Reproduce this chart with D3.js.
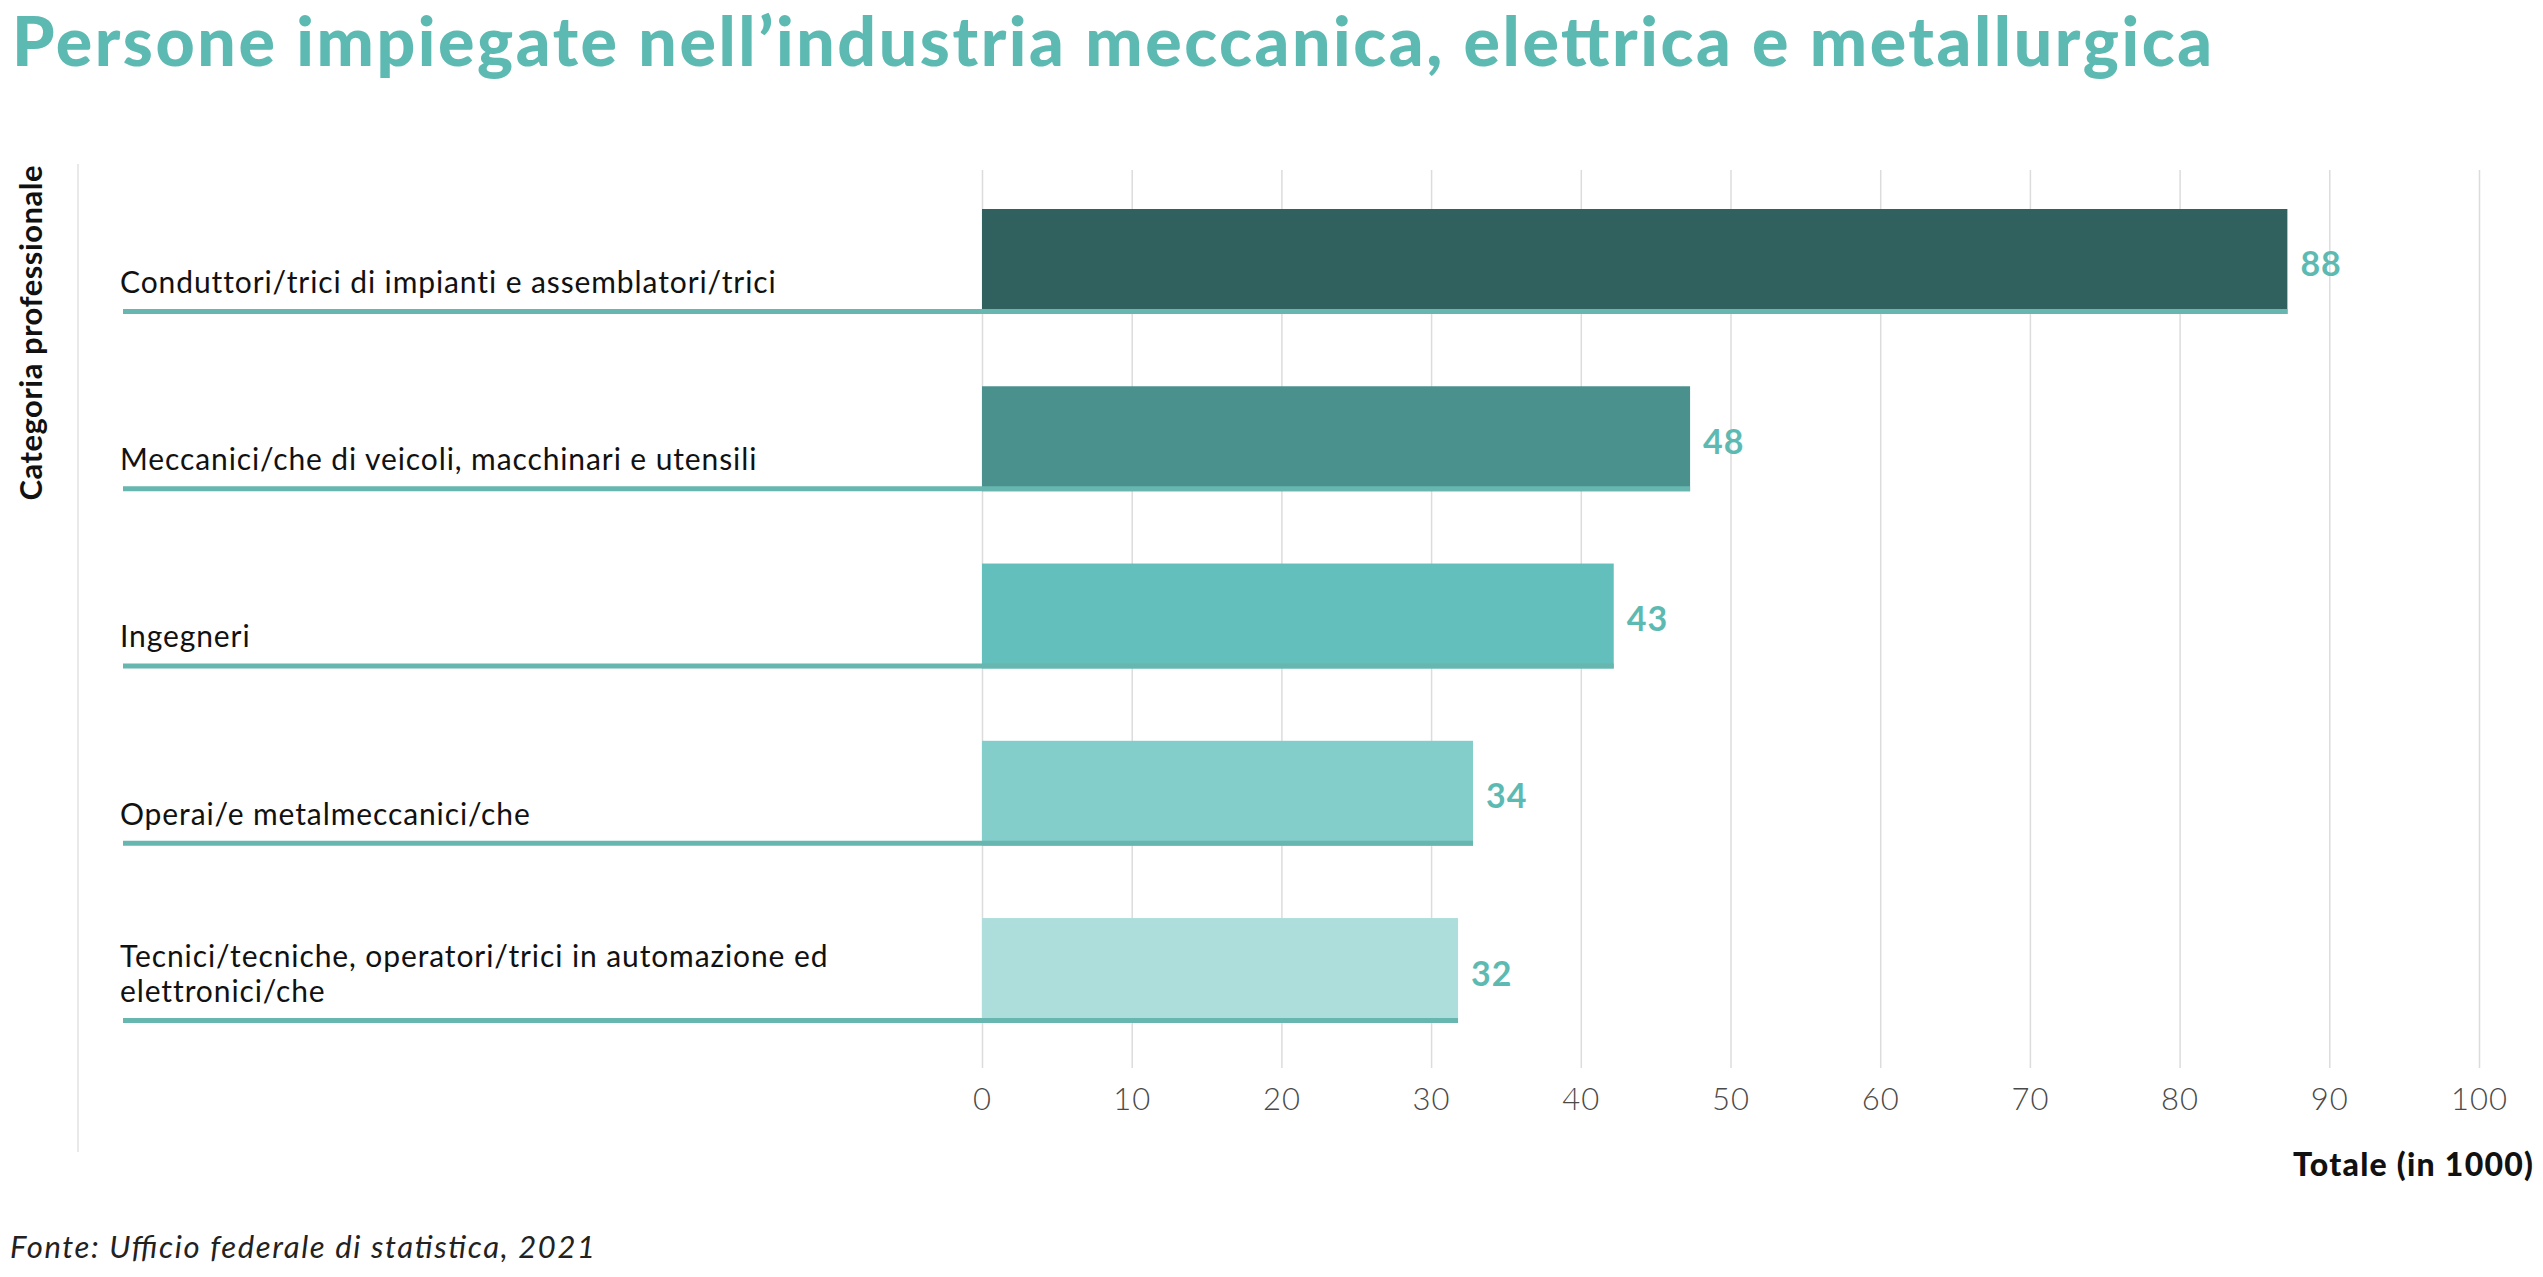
<!DOCTYPE html>
<html>
<head>
<meta charset="utf-8">
<script src="https://cdn.jsdelivr.net/npm/d3@7"></script>
<style>
  html, body { margin: 0; padding: 0; background: #ffffff; }
  svg { display: block; font-family: Lato, "Open Sans", sans-serif; }
</style>
</head>
<body>
<svg id="chart" width="2543" height="1277"></svg>
<script>
// ---- data ----
const categories = [
  ["Conduttori/trici di impianti e assemblatori/trici"],
  ["Meccanici/che di veicoli, macchinari e utensili"],
  ["Ingegneri"],
  ["Operai/e metalmeccanici/che"],
  ["Tecnici/tecniche, operatori/trici in automazione ed", "elettronici/che"]
];
const values = [87.2, 47.3, 42.2, 32.8, 31.8];
const valueLabels = ["88", "48", "43", "34", "32"];
const barColors = ["#31615f", "#4a908d", "#62bfbb", "#83cdca", "#addedb"];
const xTicks = [0, 10, 20, 30, 40, 50, 60, 70, 80, 90, 100];
const titleText = "Persone impiegate nell’industria meccanica, elettrica e metallurgica";
const yAxisTitle = "Categoria professionale";
const xAxisTitle = "Totale (in 1000)";
const sourceText = "Fonte: Ufficio federale di statistica, 2021";

// ---- layout ----
const svg = d3.select("#chart");
const teal = "#5dbab2";
const gridTop = 170, gridBottom = 1068;

const x = d3.scaleLinear().domain([0, 100]).range([982, 2479]);
const y = d3.scaleBand()
  .domain(d3.range(categories.length))
  .range([209, 1023])
  .paddingInner(0.408)
  .paddingOuter(0);

// title
svg.append("text")
  .attr("x", 12).attr("y", 66)
  .attr("fill", teal)
  .attr("font-size", 68).attr("font-weight", 900)
  .attr("textLength", 2200).attr("lengthAdjust", "spacing")
  .text(titleText);

// left vertical line
svg.append("line")
  .attr("x1", 78).attr("x2", 78)
  .attr("y1", 164).attr("y2", 1152)
  .attr("stroke", "#e2e2e2").attr("stroke-width", 1.5);

// y axis title
svg.append("text")
  .attr("transform", "translate(42,333) rotate(-90)")
  .attr("text-anchor", "middle")
  .attr("font-size", 31).attr("font-weight", 700)
  .attr("textLength", 335).attr("lengthAdjust", "spacing")
  .attr("fill", "#111")
  .text(yAxisTitle);

// gridlines + tick labels via axis
const xAxis = d3.axisBottom(x)
  .tickValues(xTicks)
  .tickSize(-(gridBottom - gridTop))
  .tickPadding(0)
  .tickFormat(d3.format("d"));

const gAxis = svg.append("g")
  .attr("transform", `translate(0,${gridBottom})`)
  .call(xAxis);
gAxis.select(".domain").remove();
gAxis.selectAll(".tick line")
  .attr("stroke", "#dcdcdc").attr("stroke-width", 1.5);
gAxis.selectAll(".tick text")
  .attr("y", 42).attr("dy", 0)
  .attr("font-size", 31).attr("font-weight", 300)
  .attr("letter-spacing", 1)
  .attr("font-family", "Lato, sans-serif")
  .attr("fill", "#4a4a4a");

// bars
const gBars = svg.append("g");
gBars.selectAll("rect.bar")
  .data(values)
  .join("rect")
  .attr("class", "bar")
  .attr("x", x(0))
  .attr("y", (d, i) => y(i))
  .attr("width", d => x(d) - x(0))
  .attr("height", y.bandwidth())
  .attr("fill", (d, i) => barColors[i]);

// underline rules
gBars.selectAll("line.rule")
  .data(values)
  .join("line")
  .attr("class", "rule")
  .attr("x1", 123)
  .attr("x2", d => x(d))
  .attr("y1", (d, i) => y(i) + y.bandwidth() - 2.5)
  .attr("y2", (d, i) => y(i) + y.bandwidth() - 2.5)
  .attr("stroke", "#67b7b0")
  .attr("stroke-width", 5);

// category labels
const gLabels = svg.append("g");
categories.forEach((lines, i) => {
  const base = y(i) + y.bandwidth() - 21;
  const t = gLabels.append("text")
    .attr("font-size", 30)
    .attr("letter-spacing", 0.9)
    .attr("fill", "#111");
  lines.forEach((ln, j) => {
    t.append("tspan")
      .attr("x", 120)
      .attr("y", base - (lines.length - 1 - j) * 35)
      .text(ln);
  });
});

// value labels
svg.append("g").selectAll("text")
  .data(values)
  .join("text")
  .attr("x", d => x(d) + 13)
  .attr("y", (d, i) => y(i) + y.bandwidth() / 2 + 15)
  .attr("font-size", 34).attr("font-weight", 700)
  .attr("letter-spacing", 1)
  .attr("fill", teal)
  .text((d, i) => valueLabels[i]);

// x axis title
svg.append("text")
  .attr("x", 2533).attr("y", 1176)
  .attr("text-anchor", "end")
  .attr("font-size", 32).attr("font-weight", 900)
  .attr("textLength", 240).attr("lengthAdjust", "spacing")
  .attr("fill", "#111")
  .text(xAxisTitle);

// source
svg.append("text")
  .attr("x", 10).attr("y", 1258)
  .attr("font-size", 31).attr("font-style", "italic")
  .attr("textLength", 585).attr("lengthAdjust", "spacing")
  .attr("fill", "#222")
  .text(sourceText);
</script>
</body>
</html>
